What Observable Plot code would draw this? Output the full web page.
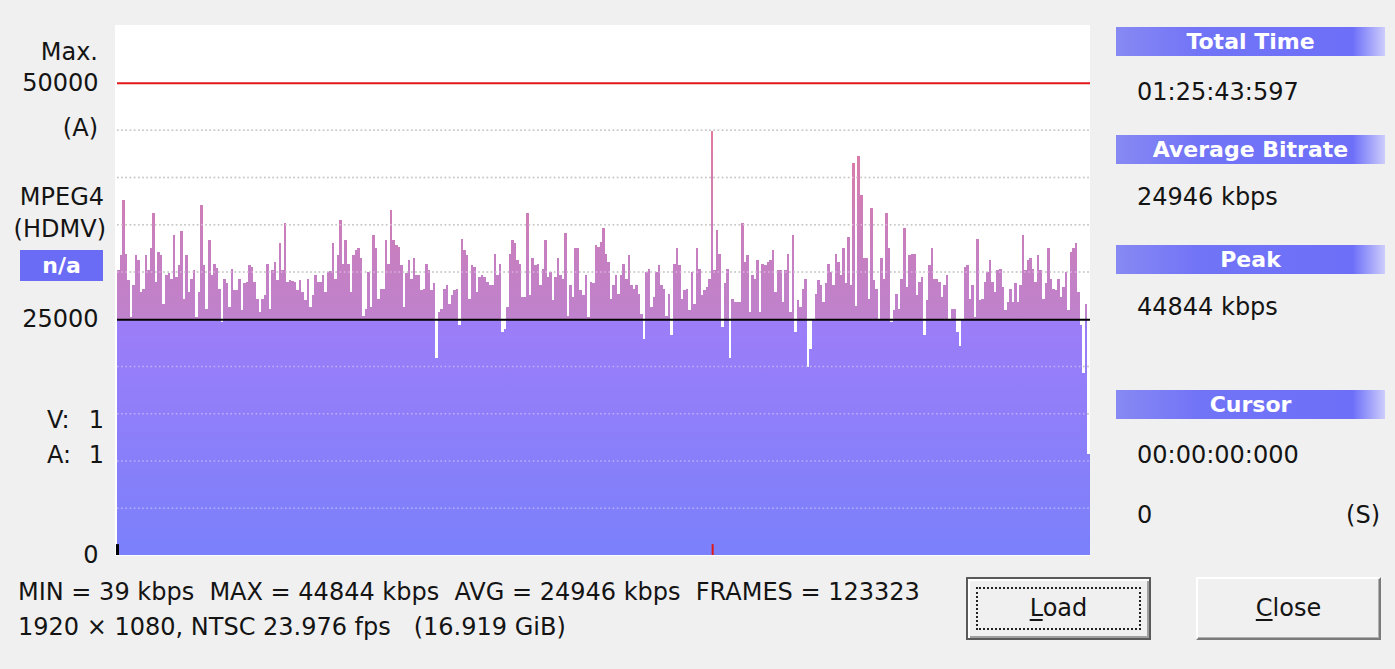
<!DOCTYPE html>
<html><head><meta charset="utf-8">
<script src="https://cdn.jsdelivr.net/npm/d3@7"></script>
<script src="https://cdn.jsdelivr.net/npm/@observablehq/plot@0.6"></script>
<style>
html,body{margin:0;padding:0;background:#f0f0f0;}
body{width:1395px;height:669px;position:relative;overflow:hidden;font-family:"DejaVu Sans",sans-serif;color:#141414;}
.t{position:absolute;font-size:24px;white-space:pre;height:30px;line-height:30px;}
.hdr{position:absolute;left:1116px;width:269px;height:29px;line-height:29px;color:#fff;font-weight:bold;font-size:22px;text-align:center;
 background:linear-gradient(to right,#8789f3 0%,#7274f7 30%,#6d6ff8 88%,#cdcdfc 100%);}
.na{position:absolute;left:20px;top:250px;width:83px;height:31px;line-height:31px;background:#6b6cf6;color:#fff;font-weight:bold;font-size:22px;text-align:center;}
#plotarea{position:absolute;left:115px;top:25px;width:975px;height:531px;background:#fff;}
#chart{position:absolute;left:0;top:0;}
.btn{position:absolute;top:577px;width:185px;height:63px;box-sizing:border-box;background:#f0f0f0;font-size:24px;text-align:center;line-height:59px;}
#load{left:966px;border:2px solid #5a5a5a;box-shadow:inset 2px 2px 0 #fff, inset -2px -2px 0 #a0a0a0;}
#load .focus{position:absolute;left:8px;top:8px;right:8px;bottom:8px;border:2px dotted #222;}
#close{left:1196px;border-top:2px solid #fff;border-left:2px solid #fff;border-right:2px solid #7a7a7a;border-bottom:2px solid #7a7a7a;box-shadow:inset -1px -1px 0 #b0b0b0;}
u{text-decoration:underline;text-underline-offset:3px;}
</style>
</head><body>
<div id="plotarea"></div>
<div id="chart"></div>

<div class="t" style="left:0;width:98px;text-align:right;top:37px">Max.</div>
<div class="t" style="left:0;width:98px;text-align:right;top:113px">(A)</div>
<div class="t" style="left:0;width:104px;text-align:right;top:182px">MPEG4</div>
<div class="t" style="left:0;width:106px;text-align:right;top:214px">(HDMV)</div>
<div class="na">n/a</div>
<div class="t" style="left:47px;top:405px">V:</div>
<div class="t" style="left:0;width:104px;text-align:right;top:405px">1</div>
<div class="t" style="left:47px;top:440px">A:</div>
<div class="t" style="left:0;width:104px;text-align:right;top:440px">1</div>

<div class="hdr" style="top:27px">Total Time</div>
<div class="t" style="left:1137px;top:77px">01:25:43:597</div>
<div class="hdr" style="top:135px">Average Bitrate</div>
<div class="t" style="left:1137px;top:182px">24946 kbps</div>
<div class="hdr" style="top:245px">Peak</div>
<div class="t" style="left:1137px;top:292px">44844 kbps</div>
<div class="hdr" style="top:390px">Cursor</div>
<div class="t" style="left:1137px;top:440px">00:00:00:000</div>
<div class="t" style="left:1137px;top:500px">0</div>
<div class="t" style="left:1280px;width:100px;text-align:right;top:500px">(S)</div>

<div class="t" style="left:18px;top:577px">MIN = 39 kbps  MAX = 44844 kbps  AVG = 24946 kbps  FRAMES = 123323</div>
<div class="t" style="left:18px;top:612px">1920 × 1080, NTSC 23.976 fps   (16.919 GiB)</div>

<div class="btn" id="load"><div class="focus"></div><u>L</u>oad</div>
<div class="btn" id="close"><u>C</u>lose</div>

<script>
// bitrate per segment (kbps), read left to right
const bitrateSeg1 = [30150,31750,37600,31900,29100,25200,28550,31750,31200,27850,
 28200,31750,30150,32450,36200,28900,32100,31750,26600,29600,29800,
 29250,33900,29450,30700,34250,27150,31750,27850,29250,30150,
 25200,27850,37050,30700,26050,33350,29600,30850,30400,28200,24650,
 29250,28750,26250,30300,28000,28000,29250,25900,28750,28900,
 30700,30500,28900,27150,25700,27150,27500,30850,26050,30150,31050,
 29100,33000,30150,35100,28900,29100,29000,28900,28000,29100,27850,
 26950,29250,26250,27500,29600,28900,28900,29600,27850,29950,30100,
 33000,29250,31750,35450,30850,33350,30850,27850,31750,32300];
const bitrateSeg2 = [32450,31400,25350,26050,29950,26250,33900,32450,27150,28200,
 28200,33350,30850,36550,33350,32800,32650,30700,26250,29800,
 31200,29250,31400,29600,29600,28000,28200,30850,30150,28000,
 28750,20900,25700,26050,28200,28550,26600,27500,28000,28200,
 24300,33500,32300,31750,27150,30700,30500,27850,29450,29600,
 29450,28900,28550,28550,31900,29600,30850,23600,23950,26250,
 31900,33350,33000,31200,30850,27300,27300,36200,27500,31400,
 30700,30850,28550,30300,33350,29450,29950,26950,29450,31400,
 29600,29250,34050,25350,28550,27300,32450,32450,28000,27500,
 29600,25200,28900,28750,32800,32650];
const bitrateSeg3 = [33150,34600,31900,31050,27150,28550,29600,27650,29600,30850,
 29250,31750,28550,28200,28550,27650,25550,22850,29950,30300,
 26250,27300,29950,30700,28550,28200,25350,27650,23250,30850,
 32450,30700,27150,28000,28200,25900,29950,26600,32450,30300,
 27500,28000,28400,29250,44844,30150,34400,31900,24100,28750,
 30300,20900,27150,26800,26800,26800,35100,31050,31750,25700,
 29600,29250,31200,25700,30850,30700,31050,31200,32300,27850,
 30150,30150,26800,30150,31900,25700,33900,23600,26950,26250,
 28200,29250,19850,21800,25000,27650,29100,28550,26800,28750,
 30850,29950,28550,31900,31050];
const bitrateSeg4 = [29600,32450,28750,33700,28550,41500,26400,42200,38150,31400,
 31400,27150,36700,29100,28200,25000,31400,29250,36200,32450,
 24650,25900,27650,26050,29250,34600,28400,31750,31900,31900,
 27500,28900,29450,23250,26950,30700,32450,29250,29250,28900,
 27300,28550,29600,25000,26050,26050,23600,22150,24850,30500,
 30700,27150,28550,25200,33500,26950,27150,28900,29950,31200,
 28900,27850,30150,30300,28400,25900,26800,28200,26800,28750,
 26800,28550,33900,30150,31200,31400,30300,28900,31750,30150,
 27150,28750,32450,29250,28200,28000,29250,27300,28400,29950,
 25900,32100,32450,33000,27850,24300,19300,26600,10650];

const avgBitrate = 24946;
const maxScale = 50000;
const yTopValue = 56100;
const yTickValues = [0, 25000, 50000];
const gridValues = [5000, 10000, 15000, 20000, 30000, 35000, 40000, 45000];
const cursorIndex = 0;

const values = [...bitrateSeg1, ...bitrateSeg2, ...bitrateSeg3, ...bitrateSeg4];
const N = values.length;
const data = values.map((v, i) => ({i, i2: i + 1, v}));
const peakIndex = values.indexOf(d3.max(values));

const font = '"DejaVu Sans",sans-serif';
const chart = Plot.plot({
  width: 1100, height: 557,
  marginLeft: 117, marginRight: 10, marginTop: 25, marginBottom: 2,
  style: {background: "transparent", overflow: "visible", fontFamily: font, fontSize: "24px", color: "#141414"},
  x: {domain: [0, N], axis: null},
  y: {domain: [0, yTopValue], ticks: yTickValues, tickFormat: d => String(d), tickSize: 0, tickPadding: 19, label: null},
  marks: [
    Plot.ruleY(gridValues, {stroke: "#a4a4a4", strokeWidth: 1.5, strokeDasharray: "1.6,2.6"}),
    Plot.rectY(data, {x1: "i", x2: "i2", y: "v", fill: "url(#barGrad)", shapeRendering: "crispEdges"}),
    Plot.ruleY(gridValues, {stroke: "#ffffff", strokeOpacity: 0.4, strokeWidth: 1.5, strokeDasharray: "1.6,2.6"}),
    Plot.ruleY([avgBitrate], {stroke: "#000", strokeWidth: 2}),
    Plot.ruleY([maxScale], {stroke: "#e01818", strokeWidth: 2}),
    Plot.ruleX([cursorIndex], {y1: 0, y2: 1150, stroke: "#000", strokeWidth: 3}),
    Plot.ruleX([peakIndex + 0.5], {y1: 0, y2: 1150, stroke: "#e01818", strokeWidth: 2})
  ]
});

const ys = chart.scale("y");
const svg = d3.select(chart);
const defs = svg.insert("defs", ":first-child");
const grad = defs.append("linearGradient").attr("id", "barGrad")
  .attr("gradientUnits", "userSpaceOnUse")
  .attr("x1", 0).attr("x2", 0)
  .attr("y1", ys.apply(0)).attr("y2", ys.apply(yTopValue));
const stops = [[0, "#7b80fb"], [avgBitrate, "#9d7df8"], [avgBitrate, "#bf82cd"],
  [32000, "#c67fc0"], [40000, "#d57caf"], [46000, "#e27a9c"], [yTopValue, "#ee7488"]];
for (const [v, c] of stops) grad.append("stop").attr("offset", v / yTopValue).attr("stop-color", c);

document.getElementById("chart").appendChild(chart);
</script>
</body></html>
